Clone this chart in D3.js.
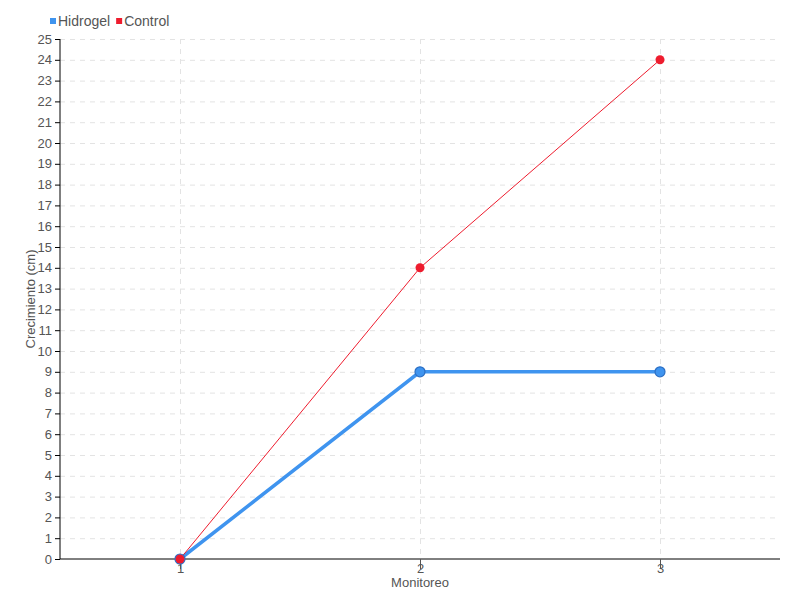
<!doctype html>
<html lang="es">
<head>
<meta charset="utf-8">
<title>Crecimiento</title>
<script src="https://cdn.jsdelivr.net/npm/d3@7"></script>
<style>
    body { margin: 0; background: #fff; }
    text { font-family: "Liberation Sans Narrow", "Liberation Sans", sans-serif; fill: #555; }
    .grid line { stroke: #e3e3e3; stroke-dasharray: 5,5; }
    .grid path { display: none; }
</style>
</head>
<body>
<svg id="chart" width="800" height="600"></svg>
<script>
    // data
    const monitoreo = [1, 2, 3];
    const hidrogel = [0, 9, 9];
    const control = [0, 14, 24];
    const seriesNames = ["Hidrogel", "Control"];
    const seriesColors = ["#3f94ef", "#ee1c2e"];

    const margin = { top: 39, right: 20, bottom: 41, left: 60 },
        width = 800 - margin.left - margin.right,
        height = 600 - margin.top - margin.bottom;

    const svg = d3.select("#chart");
    const g = svg.append("g").attr("transform", `translate(${margin.left},${margin.top})`);

    const x = d3.scaleLinear().domain([0.5, 3.5]).range([0, width]);
    const y = d3.scaleLinear().domain([0, 25]).range([height, 0]);

    // grid
    g.append("g").attr("class", "grid")
        .call(d3.axisLeft(y).ticks(25).tickSize(-width).tickFormat(""))
        .selectAll(".tick line").filter(d => d === 0).remove();
    g.append("g").attr("class", "grid")
        .call(d3.axisBottom(x).tickValues(monitoreo).tickSize(height).tickFormat(""));

    // axes
    const yAxis = g.append("g").call(d3.axisLeft(y).ticks(25).tickSize(5).tickPadding(3));
    yAxis.select(".domain").attr("stroke", "#000").attr("d", `M0,0V${height}`);
    yAxis.selectAll(".tick line").attr("stroke", "#000");
    yAxis.selectAll("text").style("font-size", "13px");

    const xAxis = g.append("g").attr("transform", `translate(0,${height})`)
        .call(d3.axisBottom(x).tickValues(monitoreo).tickSize(10).tickPadding(-5).tickFormat(d3.format("d")));
    xAxis.select(".domain").attr("stroke", "#000").attr("d", `M0,0H${width}`);
    xAxis.selectAll(".tick line").attr("stroke", "#555");
    xAxis.selectAll("text").style("font-size", "13px");

    g.append("text")
        .attr("x", width / 2).attr("y", height + 28)
        .attr("text-anchor", "middle")
        .style("font-size", "13px")
        .text("Monitoreo");

    g.append("text")
        .attr("transform", "rotate(-90)")
        .attr("x", -height / 2).attr("y", -25)
        .attr("text-anchor", "middle")
        .style("font-size", "13px")
        .text("Crecimiento (cm)");

    // lines
    const line = d3.line().x((d, i) => x(monitoreo[i])).y(d => y(d));

    g.append("path").datum(hidrogel)
        .attr("fill", "none").attr("stroke", seriesColors[0]).attr("stroke-width", 3.5)
        .attr("d", line);
    g.append("path").datum(control)
        .attr("fill", "none").attr("stroke", seriesColors[1]).attr("stroke-width", 1)
        .attr("d", line);

    g.selectAll(".ptH").data(hidrogel).enter().append("circle")
        .attr("cx", (d, i) => x(monitoreo[i])).attr("cy", d => y(d))
        .attr("r", 5).attr("fill", seriesColors[0]).attr("stroke", "#2c6fc4").attr("stroke-width", 1.2);
    g.selectAll(".ptC").data(control).enter().append("circle")
        .attr("cx", (d, i) => x(monitoreo[i])).attr("cy", d => y(d))
        .attr("r", 4.5).attr("fill", seriesColors[1]);

    // legend
    const legend = svg.append("g").attr("transform", "translate(50,21)");
    let lx = 0;
    seriesNames.forEach((name, i) => {
        const item = legend.append("g").attr("transform", `translate(${lx},0)`);
        item.append("rect").attr("x", 0).attr("y", -3).attr("width", 6).attr("height", 6)
            .attr("fill", seriesColors[i]);
        const t = item.append("text").attr("x", 8).attr("y", 5)
            .style("font-size", "14px").text(name);
        lx += 8 + t.node().getComputedTextLength() + 6;
    });
</script>
</body>
</html>
